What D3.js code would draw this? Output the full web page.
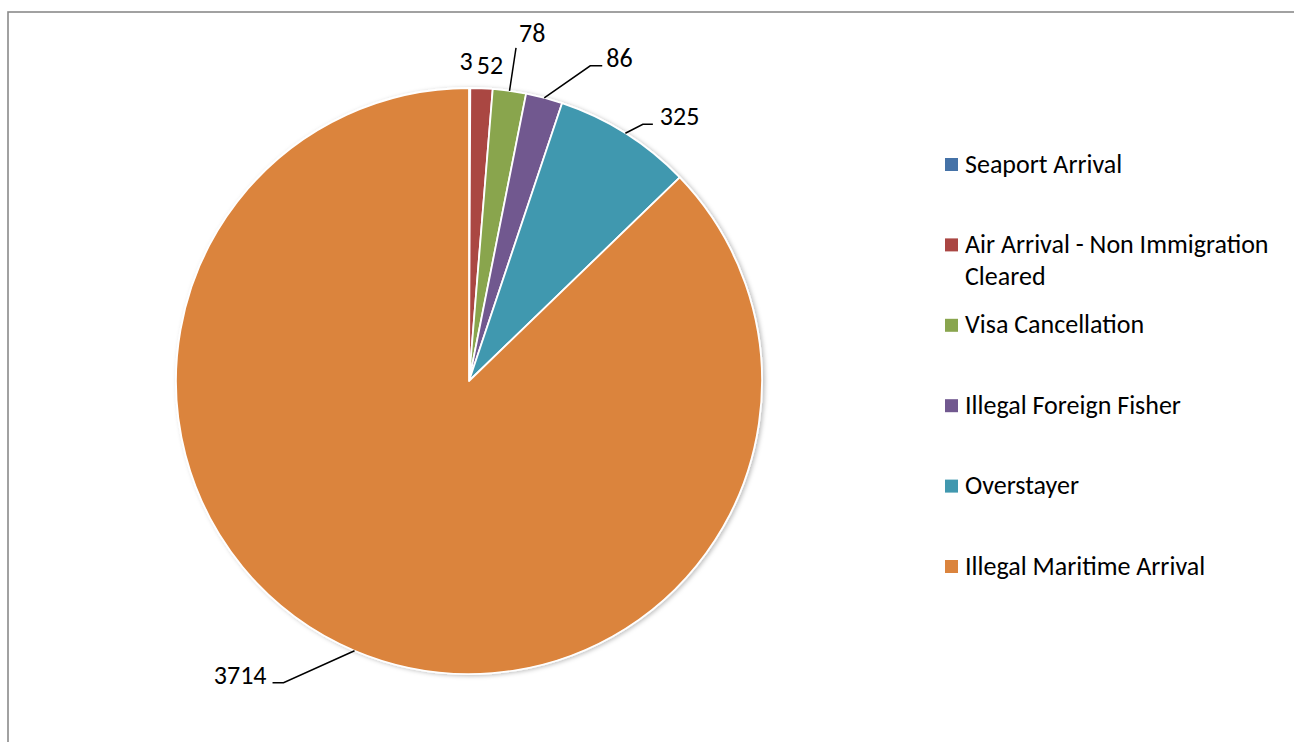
<!DOCTYPE html>
<html>
<head>
<meta charset="utf-8">
<script src="https://cdn.jsdelivr.net/npm/d3@7/dist/d3.min.js"></script>
<style>
  html, body { margin: 0; padding: 0; background: #fff; }
  svg { display: block; }
  text { font-family: Carlito, Lato, "Open Sans", sans-serif; fill: #000; }
</style>
</head>
<body>
<svg id="chart" width="1294" height="742"></svg>
<script>
// ---- data ----
const categories = [
  "Seaport Arrival",
  "Air Arrival - Non Immigration Cleared",
  "Visa Cancellation",
  "Illegal Foreign Fisher",
  "Overstayer",
  "Illegal Maritime Arrival"
];
const values = [3, 52, 78, 86, 325, 3714];
const colors = ["#4572A7", "#AA4643", "#89A54E", "#71588F", "#4198AF", "#DB843D"];

// ---- layout (label placement relative to slice edge point) ----
const labelLayout = [
  { center: [-3.5, -27] },
  { center: [8.5, -23] },
  { elbow: [6.5, -43], tail: 0, gap: 3 },
  { elbow: [46, -32], tail: 12, gap: 4 },
  { elbow: [17.5, -9], tail: 10, gap: 7 },
  { elbow: [-71, 32], tail: -11, gap: 6 }
];

const W = 1294, H = 742;
const cx = 469, cy = 381, R = 293;
const fontSize = 26;

const svg = d3.select("#chart");

// frame
svg.append("rect")
  .attr("x", 8).attr("y", 12)
  .attr("width", W + 20).attr("height", H + 20)
  .attr("fill", "none").attr("stroke", "#8a8a8a").attr("stroke-width", 1.6);

// shadow filter
const defs = svg.append("defs");
const f = defs.append("filter").attr("id", "shadow")
  .attr("x", "-10%").attr("y", "-10%").attr("width", "120%").attr("height", "120%");
f.append("feDropShadow").attr("dx", 2).attr("dy", 1).attr("stdDeviation", 2)
  .attr("flood-color", "#000").attr("flood-opacity", 0.25);

const color = d3.scaleOrdinal().domain(categories).range(colors);

const pie = d3.pie().sort(null).value(d => d.value).startAngle(0).endAngle(2 * Math.PI);
const data = categories.map((c, i) => ({ name: c, value: values[i] }));
const arcs = pie(data);

const arc = d3.arc().innerRadius(0).outerRadius(R);
const edgeArc = d3.arc().innerRadius(R).outerRadius(R);

const g = svg.append("g").attr("transform", `translate(${cx},${cy})`);

g.append("g").attr("filter", "url(#shadow)")
  .selectAll("path")
  .data(arcs)
  .join("path")
  .attr("d", arc)
  .attr("fill", d => color(d.data.name))
  .attr("stroke", "#fff")
  .attr("stroke-width", 1.8)
  .attr("stroke-linejoin", "round");

// labels
const lg = g.append("g");
arcs.forEach((d, i) => {
  const p0 = edgeArc.centroid(d);
  const L = labelLayout[i];
  if (L.center) {
    lg.append("text")
      .attr("x", p0[0] + L.center[0])
      .attr("y", p0[1] + L.center[1])
      .attr("text-anchor", "middle")
      .attr("dominant-baseline", "central")
      .attr("font-size", fontSize)
      .text(d.data.value);
  } else {
    const p1 = [p0[0] + L.elbow[0], p0[1] + L.elbow[1]];
    const p2 = [p1[0] + L.tail, p1[1]];
    lg.append("path")
      .attr("d", d3.line()([p0, p1, p2]))
      .attr("fill", "none").attr("stroke", "#000").attr("stroke-width", 1.5);
    const right = L.tail >= 0;
    if (L.tail === 0) {
      lg.append("text")
        .attr("x", p2[0] + L.gap)
        .attr("y", p2[1] - 6)
        .attr("text-anchor", "start")
        .attr("font-size", fontSize)
        .text(d.data.value);
    } else {
      lg.append("text")
        .attr("x", right ? p2[0] + L.gap : p2[0] - L.gap)
        .attr("y", p2[1] + 1)
        .attr("text-anchor", right ? "start" : "end")
        .attr("font-size", fontSize)
        .text(d.data.value);
    }
  }
});

// legend
const legX = 945, legY0 = 164.5, legStep = 80.4, sw = 13, maxW = 318;
const leg = svg.append("g");
categories.forEach((c, i) => {
  const y = legY0 + i * legStep;
  leg.append("rect")
    .attr("x", legX).attr("y", y - sw / 2)
    .attr("width", sw).attr("height", sw)
    .attr("fill", color(c));
  const t = leg.append("text")
    .attr("x", legX + 20).attr("y", y + 8)
    .attr("font-size", fontSize);
  const words = c.split(" ");
  let line = [];
  let tspan = t.append("tspan").attr("x", legX + 20).attr("y", y + 8);
  let lineNo = 0;
  words.forEach(w => {
    line.push(w);
    tspan.text(line.join(" "));
    if (tspan.node().getComputedTextLength() > maxW && line.length > 1) {
      line.pop();
      tspan.text(line.join(" "));
      line = [w];
      lineNo++;
      tspan = t.append("tspan").attr("x", legX + 20).attr("y", y + 8 + lineNo * 32.5).text(w);
    }
  });
});
</script>
</body>
</html>
